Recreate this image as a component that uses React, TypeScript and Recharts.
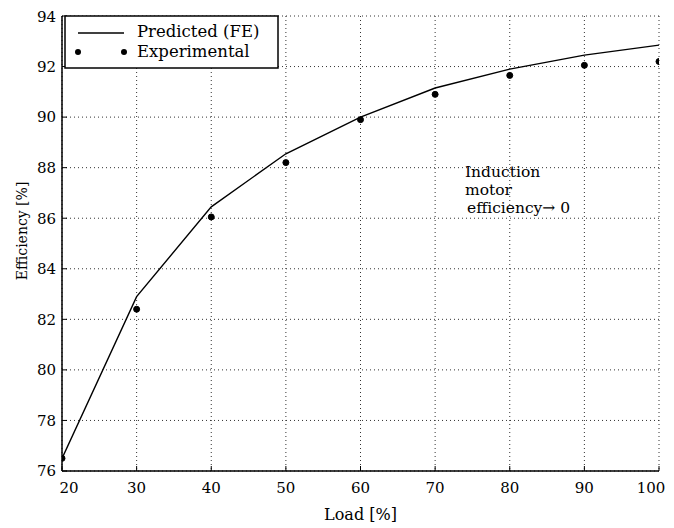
import { CartesianGrid, Line, LineChart, XAxis, YAxis } from 'recharts'

const loads = [20, 30, 40, 50, 60, 70, 80, 90, 100]
const predicted = [76.5, 82.9, 86.45, 88.55, 90.0, 91.15, 91.9, 92.45, 92.85]
const experimental = [76.5, 82.4, 86.05, 88.2, 89.9, 90.9, 91.65, 92.05, 92.2]
const xTicks = [20, 30, 40, 50, 60, 70, 80, 90, 100]
const yTicks = [76, 78, 80, 82, 84, 86, 88, 90, 92, 94]
const legendLabels = ['Predicted (FE)', 'Experimental']
const noteLines = ['Induction', 'motor', 'efficiency\u2192 0']

const FONT = '"DejaVu Serif", serif'

const data = loads.map((load, i) => ({
  load,
  predicted: predicted[i],
  experimental: experimental[i],
}))

function LegendBox() {
  return (
    <svg width={216} height={55} style={{ display: 'block' }}>
      <rect x={1} y={1} width={213} height={52} fill="#fff" stroke="#000" strokeWidth={1.5} />
      <line x1={14} y1={18} x2={60} y2={18} stroke="#000" strokeWidth={1.3} />
      <circle cx={14} cy={37} r={3} fill="#000" />
      <circle cx={60} cy={37} r={3} fill="#000" />
      <text x={73} y={22} fontSize={16.5} fontFamily={FONT} fill="#000">
        {legendLabels[0]}
      </text>
      <text x={73} y={42} fontSize={16.5} fontFamily={FONT} fill="#000">
        {legendLabels[1]}
      </text>
    </svg>
  )
}

// edge labels sit a little inside, as in the original plot
function XTick({ x, y, payload }: any) {
  const v = payload.value
  const dx = v === 20 ? 7 : v === 100 ? -8 : 0
  return (
    <text x={x + dx} y={y} dy="0.71em" textAnchor="middle" fontSize={15} fontFamily={FONT} fill="#000">
      {v}
    </text>
  )
}

const tickStyle = { fontSize: 15, fontFamily: FONT, fill: '#000' }

export default function App() {
  return (
    <div style={{ position: 'relative', width: 666, height: 520, fontFamily: FONT }}>
      <LineChart
        width={666}
        height={520}
        data={data}
        margin={{ top: 8, right: 15, left: 0, bottom: 0 }}
      >
        <CartesianGrid stroke="#333" strokeDasharray="1 3" strokeWidth={1} />
        <XAxis
          dataKey="load"
          type="number"
          domain={[20, 100]}
          ticks={xTicks}
          allowDataOverflow
          height={57}
          tickSize={-5}
          tickMargin={16}
          tick={<XTick />}
          axisLine={{ stroke: '#000', strokeWidth: 1.5 }}
          tickLine={{ stroke: '#000' }}
          label={{
            value: 'Load [%]',
            position: 'insideBottom',
            offset: 8,
            style: { fontSize: 16, fontFamily: FONT, fill: '#000' },
          }}
        />
        <XAxis
          xAxisId="top"
          orientation="top"
          type="number"
          domain={[20, 100]}
          ticks={xTicks}
          allowDataOverflow
          height={0}
          tickSize={-5}
          tick={false}
          axisLine={{ stroke: '#000', strokeWidth: 1.5 }}
          tickLine={{ stroke: '#000' }}
        />
        <YAxis
          type="number"
          domain={[76, 94]}
          ticks={yTicks}
          allowDataOverflow
          width={54}
          tickSize={-5}
          tickMargin={11}
          tick={tickStyle}
          axisLine={{ stroke: '#000', strokeWidth: 1.5 }}
          tickLine={{ stroke: '#000' }}
          label={{
            content: () => (
              <text
                transform="translate(14,223) rotate(-90)"
                textAnchor="middle"
                dominantBaseline="central"
                fontSize={14}
                fontFamily={FONT}
                fill="#000"
              >
                Efficiency [%]
              </text>
            ),
          }}
        />
        <YAxis
          yAxisId="right"
          orientation="right"
          type="number"
          domain={[76, 94]}
          ticks={yTicks}
          allowDataOverflow
          width={0}
          tickSize={-5}
          tick={false}
          axisLine={{ stroke: '#000', strokeWidth: 1.5 }}
          tickLine={{ stroke: '#000' }}
        />
        <Line
          dataKey="predicted"
          type="linear"
          stroke="#000"
          strokeWidth={1.4}
          dot={false}
          isAnimationActive={false}
        />
        <Line
          dataKey="experimental"
          type="linear"
          stroke="none"
          dot={{ r: 3, fill: '#000', stroke: '#000', strokeWidth: 1 }}
          isAnimationActive={false}
        />
        {noteLines.map((t, i) => (
          <text
            key={t}
            x={i === 2 ? 459 : 457}
            y={169 + i * 18}
            fontSize={15.5}
            fontFamily={FONT}
            fill="#000"
          >
            {t}
          </text>
        ))}
      </LineChart>
      <div style={{ position: 'absolute', top: 7, left: 56 }}>
        <LegendBox />
      </div>
    </div>
  )
}
